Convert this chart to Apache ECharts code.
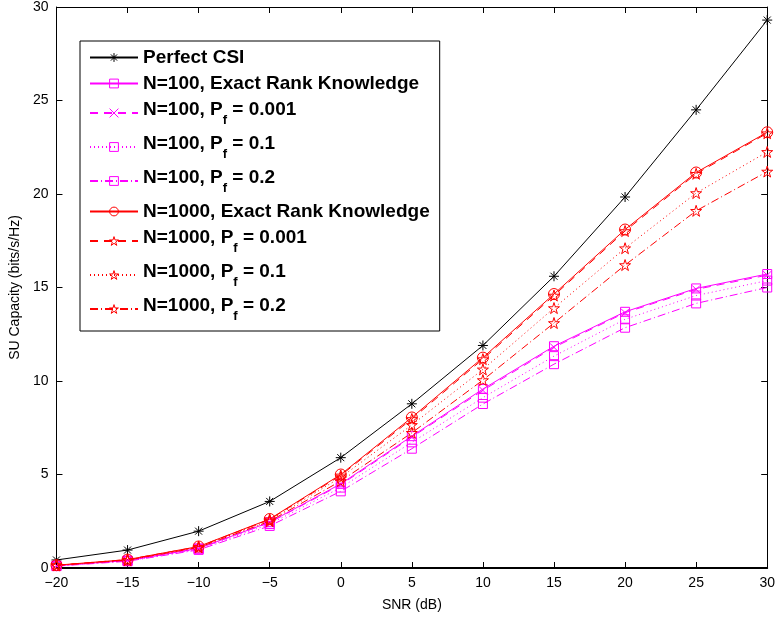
<!DOCTYPE html>
<html>
<head>
<meta charset="utf-8">
<script src="https://cdn.jsdelivr.net/npm/echarts@6/dist/echarts.min.js"></script>
<style>
  html, body { margin: 0; padding: 0; background: #fff; }
  #chart { width: 778px; height: 617px; }
</style>
</head>
<body>
<div id="chart"></div>
<script>
var snr = [-20, -15, -10, -5, 0, 5, 10, 15, 20, 25, 30];
var xTicks = [-20, -15, -10, -5, 0, 5, 10, 15, 20, 25, 30];
var yTicks = [0, 5, 10, 15, 20, 25, 30];

var perfectCSI = [0.43, 0.96, 1.97, 3.56, 5.9, 8.78, 11.9, 15.6, 19.84, 24.5, 29.3];
var n100Exact  = [0.12, 0.4, 1.05, 2.45, 4.5, 7.05, 9.57, 11.86, 13.7, 14.95, 15.72];
var n100Pf001  = [0.12, 0.4, 1.04, 2.43, 4.45, 7.0, 9.5, 11.8, 13.65, 14.9, 15.66];
var n100Pf01   = [0.11, 0.38, 1.0, 2.35, 4.3, 6.72, 9.11, 11.33, 13.3, 14.57, 15.37];
var n100Pf02   = [0.1, 0.36, 0.97, 2.25, 4.1, 6.38, 8.77, 10.9, 12.85, 14.15, 15.0];
var n1000Exact = [0.15, 0.45, 1.15, 2.62, 5.0, 8.05, 11.25, 14.65, 18.1, 21.15, 23.3];
var n1000Pf001 = [0.15, 0.45, 1.14, 2.6, 4.95, 7.97, 11.17, 14.57, 18.02, 21.08, 23.25];
var n1000Pf01  = [0.14, 0.43, 1.12, 2.55, 4.85, 7.65, 10.62, 13.9, 17.1, 20.05, 22.25];
var n1000Pf02  = [0.14, 0.42, 1.1, 2.5, 4.65, 7.23, 10.05, 13.1, 16.2, 19.1, 21.2];

var seriesNames = [
    'Perfect CSI',
    'N=100, Exact Rank Knowledge',
    'N=100, Pf = 0.001',
    'N=100, Pf = 0.1',
    'N=100, Pf = 0.2',
    'N=1000, Exact Rank Knowledge',
    'N=1000, Pf = 0.001',
    'N=1000, Pf = 0.1',
    'N=1000, Pf = 0.2'
];
// legend text with subscript f
var legendLabels = {
    'Perfect CSI': '{m|Perfect CSI}',
    'N=100, Exact Rank Knowledge': '{m|N=100, Exact Rank Knowledge}',
    'N=100, Pf = 0.001': '{m|N=100, P}{s|f}{m| = 0.001}',
    'N=100, Pf = 0.1': '{m|N=100, P}{s|f}{m| = 0.1}',
    'N=100, Pf = 0.2': '{m|N=100, P}{s|f}{m| = 0.2}',
    'N=1000, Exact Rank Knowledge': '{m|N=1000, Exact Rank Knowledge}',
    'N=1000, Pf = 0.001': '{m|N=1000, P}{s|f}{m| = 0.001}',
    'N=1000, Pf = 0.1': '{m|N=1000, P}{s|f}{m| = 0.1}',
    'N=1000, Pf = 0.2': '{m|N=1000, P}{s|f}{m| = 0.2}'
};

var FONT = 'Liberation Sans, Arial, Helvetica, sans-serif';

var SYM_ASTER = 'path://M10,0L10,20M0,10L20,10M3,3L17,17M3,17L17,3';
var SYM_SQUARE = 'path://M0,0L10,0L10,10L0,10Z';
var SYM_X = 'path://M0,0L10,10M0,10L10,0';
var SYM_CIRCLE = 'path://M10,5A5,5,0,1,1,0,5A5,5,0,1,1,10,5Z';
var SYM_STAR = 'path://M10,0L12.245,6.91L19.51,6.91L13.633,11.18L15.88,18.09L10,13.82L4.12,18.09L6.367,11.18L0.49,6.91L7.755,6.91Z';

var SOLID = 'solid';
var DASH = [8, 6];
var DOT = [1, 3];
var DASHDOT = [8, 3, 1, 3];

function pairs(ys) {
    return snr.map(function(x, i) { return [x, ys[i]]; });
}

function makeSeries(name, data, color, symbol, size, dash) {
    return {
        name: name,
        type: 'line',
        data: pairs(data),
        symbol: symbol,
        symbolSize: size,
        showAllSymbol: true,
        lineStyle: { color: color, width: 1, type: dash },
        itemStyle: { color: 'none', borderColor: color, borderWidth: 1 },
        emphasis: { disabled: true },
        animation: false
    };
}

var chart = echarts.init(document.getElementById('chart'), null, { renderer: 'canvas' });

var axisCommonX = {
    type: 'value',
    min: -20,
    max: 30,
    interval: 5,
    splitLine: { show: false },
    axisTick: { show: true, inside: true, length: 6, lineStyle: { color: '#000', width: 1 } }
};
var axisCommonY = {
    type: 'value',
    min: 0,
    max: 30,
    interval: 5,
    splitLine: { show: false },
    axisTick: { show: true, inside: true, length: 6, lineStyle: { color: '#000', width: 1 } }
};

var option = {
    backgroundColor: '#fff',
    animation: false,
    grid: { left: 53, right: 9, top: 5, bottom: 48, containLabel: false },
    xAxis: [
        Object.assign({}, axisCommonX, {
            position: 'bottom',
            name: 'SNR (dB)',
            nameLocation: 'middle',
            nameGap: 30,
            nameTextStyle: { color: '#000', fontSize: 14, fontFamily: FONT },
            axisLine: { show: true, onZero: false, lineStyle: { color: '#000', width: 2 } },
            axisLabel: {
                color: '#000', fontSize: 14, fontFamily: FONT, margin: 8,
                formatter: function(v) { return String(v).replace('-', '\u2212'); }
            }
        }),
        Object.assign({}, axisCommonX, {
            position: 'top',
            axisLine: { show: true, onZero: false, lineStyle: { color: '#000', width: 1 } },
            axisLabel: { show: false }
        })
    ],
    yAxis: [
        Object.assign({}, axisCommonY, {
            position: 'left',
            name: 'SU Capacity (bits/s/Hz)',
            nameLocation: 'middle',
            nameGap: 28,
            nameTextStyle: { color: '#000', fontSize: 14, fontFamily: FONT },
            axisLine: { show: true, onZero: false, lineStyle: { color: '#000', width: 1 } },
            axisLabel: { color: '#000', fontSize: 14, fontFamily: FONT, margin: 8 }
        }),
        Object.assign({}, axisCommonY, {
            position: 'right',
            axisLine: { show: true, onZero: false, lineStyle: { color: '#000', width: 1 } },
            axisLabel: { show: false }
        })
    ],
    legend: {
        orient: 'vertical',
        left: 80,
        top: 41,
        padding: [7, 10, 8, 9],
        itemGap: 7,
        itemWidth: 48,
        itemHeight: 11,
        backgroundColor: '#fff',
        borderColor: '#000',
        borderWidth: 1,
        borderRadius: 0,
        selectedMode: false,
        data: seriesNames,
        formatter: function(name) { return legendLabels[name]; },
        itemStyle: { color: 'transparent', borderWidth: 1 },
        textStyle: {
            color: '#000',
            fontFamily: FONT,
            fontWeight: 'bold',
            fontSize: 19,
            rich: {
                m: { color: '#000', fontFamily: FONT, fontWeight: 'bold', fontSize: 19, verticalAlign: 'top', padding: [1, 0, 1, 0] },
                s: { color: '#000', fontFamily: FONT, fontWeight: 'bold', fontSize: 13, verticalAlign: 'top', padding: [15, 0, 0, 0] }
            }
        }
    },
    series: [
        makeSeries(seriesNames[0], perfectCSI, '#000000', SYM_ASTER, 10, SOLID),
        makeSeries(seriesNames[1], n100Exact, '#ff00ff', SYM_SQUARE, 9, SOLID),
        makeSeries(seriesNames[2], n100Pf001, '#ff00ff', SYM_X, 8, DASH),
        makeSeries(seriesNames[3], n100Pf01, '#ff00ff', SYM_SQUARE, 9, DOT),
        makeSeries(seriesNames[4], n100Pf02, '#ff00ff', SYM_SQUARE, 9, DASHDOT),
        makeSeries(seriesNames[5], n1000Exact, '#ff0000', SYM_CIRCLE, 11, SOLID),
        makeSeries(seriesNames[6], n1000Pf001, '#ff0000', SYM_STAR, 11, DASH),
        makeSeries(seriesNames[7], n1000Pf01, '#ff0000', SYM_STAR, 11, DOT),
        makeSeries(seriesNames[8], n1000Pf02, '#ff0000', SYM_STAR, 11, DASHDOT)
    ]
};

chart.setOption(option);
</script>
</body>
</html>
